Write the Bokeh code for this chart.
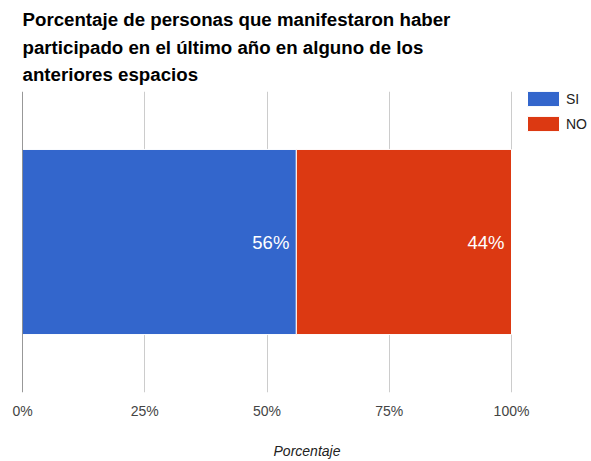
import numpy as np
from bokeh.plotting import figure
from bokeh.models import ColumnDataSource, Range1d, FactorRange, Span, Legend, LegendItem, Title, FixedTicker
from bokeh.core.properties import value
from bokeh.embed import file_html
from bokeh.resources import INLINE

# ---- data ----
title_lines = ["Porcentaje de personas que manifestaron haber",
               "participado en el último año en alguno de los",
               "anteriores espacios"]
series = ["SI", "NO"]
values = [56, 44]
colors = ["#3366cc", "#dc3912"]
bar_category = ["Participación"]
tick_values = [0, 25, 50, 75, 100]
tick_labels = ["0%", "25%", "50%", "75%", "100%"]
x_label = "Porcentaje"

FONT = "Liberation Sans"
px_per_unit = 4.89
frame_w = 569

p = figure(frame_width=frame_w, frame_height=301,
           x_range=Range1d(0, frame_w / px_per_unit),
           y_range=FactorRange(factors=bar_category),
           output_backend="svg", toolbar_location=None,
           min_border_left=22, min_border_right=0, min_border_top=0, min_border_bottom=0)
p.outline_line_color = None
p.background_fill_color = "white"
p.border_fill_color = "white"

p.title = Title(text="\n".join(title_lines), text_font=FONT, text_font_size="18.7px",
                text_font_style="bold", text_color="#000000", text_line_height=1.3,
                offset=0, standoff=13)

src = ColumnDataSource(dict(cat=bar_category, **{s: [v] for s, v in zip(series, values)}))
renderers = p.hbar_stack(series, y="cat", height=0.615, color=colors, source=src,
                         line_color="white", line_width=1)

ends = np.cumsum(values)
lab_src = ColumnDataSource(dict(x=list(ends), y=bar_category * len(values),
                                t=[f"{v}%" for v in values]))
p.text(x="x", y="y", text="t", source=lab_src, text_align="right", text_baseline="middle",
       x_offset=-7, text_color="white", text_font=value(FONT), text_font_size="18.5px")

# axes
p.yaxis.visible = False
p.ygrid.visible = False
xa = p.xaxis[0]
xa.ticker = FixedTicker(ticks=tick_values)
xa.major_label_overrides = {t: l for t, l in zip(tick_values, tick_labels)}
xa.axis_line_color = None
xa.major_tick_line_color = None
xa.minor_tick_line_color = None
xa.major_tick_out = 0
xa.major_tick_in = 0
xa.major_label_standoff = 10
xa.major_label_text_font = FONT
xa.major_label_text_font_size = "14px"
xa.major_label_text_color = "#444444"
xa.axis_label = x_label
xa.axis_label_text_font = FONT
xa.axis_label_text_font_size = "14px"
xa.axis_label_text_font_style = "italic"
xa.axis_label_text_color = "#222222"
xa.axis_label_standoff = 21
p.xgrid.ticker = FixedTicker(ticks=tick_values)
p.xgrid.grid_line_color = "#cccccc"

p.add_layout(Span(location=0, dimension="height", line_color="#333333", line_width=1))

legend = Legend(items=[LegendItem(label=s, renderers=[r]) for s, r in zip(series, renderers)],
                location=(501, 259), margin=0, padding=0, spacing=6,
                glyph_width=40, glyph_height=19, label_text_font=FONT,
                label_text_font_size="14px", label_text_color="#222222",
                label_standoff=3, border_line_color=None, background_fill_alpha=0)
p.add_layout(legend)

open("out.html", "w").write(file_html(p, INLINE))
